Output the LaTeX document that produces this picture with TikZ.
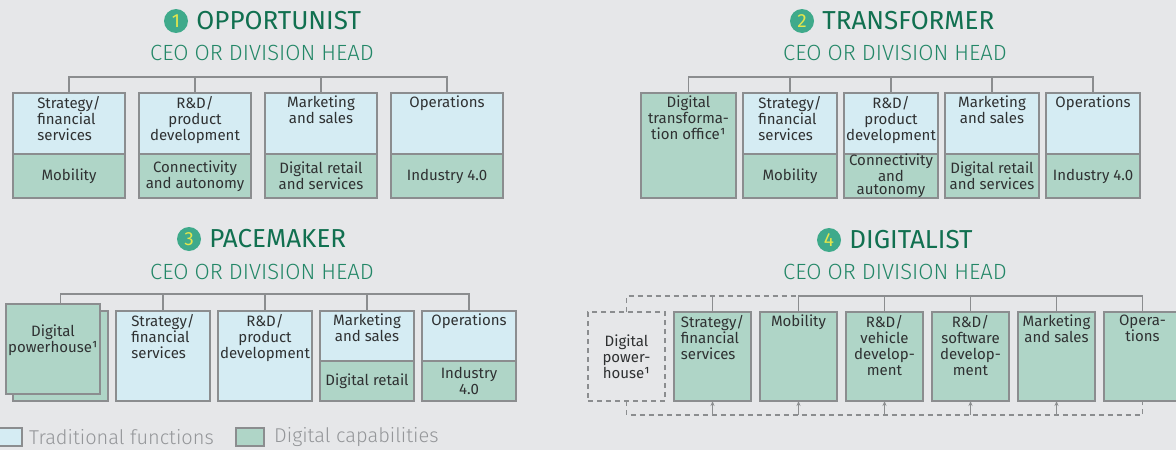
\documentclass[tikz,border=0pt]{standalone}
\usepackage{fontspec}
\setmainfont{Fira Sans}
\newfontfamily\lightfont{Fira Sans Light}
\usepackage{tikz}
\usetikzlibrary{arrows.meta,positioning}
\definecolor{pageBg}{HTML}{E6E7E9}
\definecolor{tradFill}{HTML}{D5ECF3}
\definecolor{digiFill}{HTML}{AFD5C7}
\definecolor{boxBd}{HTML}{8B8D8F}
\definecolor{titleGreen}{HTML}{117050}
\definecolor{headGreen}{HTML}{238767}
\definecolor{badgeFill}{HTML}{3FAA8B}
\definecolor{badgeNum}{HTML}{E4E64C}
\definecolor{bodyText}{HTML}{2F3132}
\definecolor{legendText}{HTML}{949699}
\tikzset{
  unit/.style={
    rectangle, draw=boxBd, line width=1.3pt, outer sep=0pt,
    inner sep=2pt, text=bodyText, align=center,
    font=\fontsize{15}{16}\selectfont
  },
  trad/.style={unit, fill=tradFill},
  digi/.style={unit, fill=digiFill},
  ghost/.style={unit, dash pattern=on 5pt off 4pt},
  toplbl/.style={
    anchor=north, inner sep=3pt, align=center, text=bodyText,
    font=\fontsize{15}{16}\selectfont
  },
  badge/.style={
    circle, fill=badgeFill, text=badgeNum, minimum size=24pt,
    inner sep=0pt, font=\fontsize{19}{19}\selectfont
  },
  title/.style={inner sep=0pt, text=titleGreen, font=\fontsize{26}{26}\selectfont},
  head/.style={inner sep=0pt, text=headGreen, font=\lightfont\fontsize{22}{22}\selectfont},
  org/.style={draw=boxBd, line width=1.5pt},
  link/.style={draw=boxBd, line width=1.3pt, dash pattern=on 5pt off 4pt},
  feed/.style={draw=boxBd, line width=1pt, -{Stealth[length=5pt,width=4pt]}},
  legend/.style={inner sep=0pt, text=legendText, font=\lightfont\fontsize{20}{20}\selectfont}
}

\begin{document}
\begin{tikzpicture}[x=1pt, y=-1pt]
  \useasboundingbox (0,0) rectangle (1176,450);
  \fill[pageBg] (0,0) rectangle (1176,450);

  % 1: opportunist
  \node[badge] (b1) at (176,21) {1};
  \node[title, right=8pt of b1] (t1) {OPPORTUNIST};
  \node[head] (c1) at (262,53) {CEO OR DIVISION HEAD};
  \coordinate (h1) at (0,77);

  \node[trad, minimum width=112pt, minimum height=61pt, anchor=north west,
        label={[toplbl, align=left]north:Strategy/\\financial\\services}] (p1s) at (13,93) {};
  \node[trad, minimum width=112pt, minimum height=61pt, right=14pt of p1s,
        label={[toplbl]north:R\&D/\\product\\development}] (p1r) {};
  \node[trad, minimum width=112pt, minimum height=61pt, right=14pt of p1r,
        label={[toplbl]north:Marketing\\and sales}] (p1k) {};
  \node[trad, minimum width=112pt, minimum height=61pt, right=14pt of p1k,
        label={[toplbl]north:Operations}] (p1o) {};
  \node[digi, minimum width=112pt, minimum height=44pt, below=0pt of p1s] (p1sd) {Mobility};
  \node[digi, minimum width=112pt, minimum height=44pt, below=0pt of p1r] (p1rd) {Connectivity\\and autonomy};
  \node[digi, minimum width=112pt, minimum height=44pt, below=0pt of p1k] (p1kd) {Digital retail\\and services};
  \node[digi, minimum width=112pt, minimum height=44pt, below=0pt of p1o] (p1od) {Industry 4.0};

  \draw[org] (p1s.north) -- (p1s.north |- h1) -- (p1o.north |- h1) -- (p1o.north);
  \draw[org] (p1r.north) -- (p1r.north |- h1);
  \draw[org] (p1k.north) -- (p1k.north |- h1);

  % 2: transformer
  \node[badge] (b2) at (802,21) {2};
  \node[title, right=8pt of b2] (t2) {TRANSFORMER};
  \node[head] (c2) at (895,53) {CEO OR DIVISION HEAD};
  \coordinate (h2) at (0,77);

  \node[digi, minimum width=95pt, minimum height=105pt, anchor=north west,
        label={[toplbl]north:Digital\\transforma-\\tion office¹}] (p2d) at (641,93) {};
  \node[trad, minimum width=94pt, minimum height=61pt, right=7pt of p2d.north east, anchor=north west,
        label={[toplbl, align=left]north:Strategy/\\financial\\services}] (p2s) {};
  \node[trad, minimum width=94pt, minimum height=61pt, right=7pt of p2s,
        label={[toplbl]north:R\&D/\\product\\development}] (p2r) {};
  \node[trad, minimum width=94pt, minimum height=61pt, right=7pt of p2r,
        label={[toplbl]north:Marketing\\and sales}] (p2k) {};
  \node[trad, minimum width=94pt, minimum height=61pt, right=7pt of p2k,
        label={[toplbl]north:Operations}] (p2o) {};
  \node[digi, minimum width=94pt, minimum height=44pt, below=0pt of p2s] (p2sd) {Mobility};
  \node[digi, minimum width=94pt, minimum height=44pt, below=0pt of p2r, inner sep=0pt,
        font=\fontsize{15}{13.5}\selectfont] (p2rd) {Connectivity\\and\\autonomy};
  \node[digi, minimum width=94pt, minimum height=44pt, below=0pt of p2k] (p2kd) {Digital retail\\and services};
  \node[digi, minimum width=94pt, minimum height=44pt, below=0pt of p2o] (p2od) {Industry 4.0};

  \draw[org] (p2d.north) -- (p2d.north |- h2) -- (p2o.north |- h2) -- (p2o.north);
  \draw[org] (p2s.north) -- (p2s.north |- h2);
  \draw[org] (p2r.north) -- (p2r.north |- h2);
  \draw[org] (p2k.north) -- (p2k.north |- h2);

  % 3: pacemaker
  \node[badge] (b3) at (189,239) {3};
  \node[title, right=8pt of b3] (t3) {PACEMAKER};
  \node[head] (c3) at (262,272) {CEO OR DIVISION HEAD};
  \coordinate (h3) at (0,294);

  \node[digi, minimum width=95pt, minimum height=90pt, anchor=north west] (p3sh) at (13,311) {};
  \node[digi, minimum width=94pt, minimum height=90pt, anchor=north west,
        label={[toplbl, yshift=-18pt]north:Digital\\powerhouse¹}] (p3d) at (6,304) {};
  \node[trad, minimum width=94pt, minimum height=90pt, right=8pt of p3sh,
        label={[toplbl, align=left]north:Strategy/\\financial\\services}] (p3s) {};
  \node[trad, minimum width=94pt, minimum height=90pt, right=8pt of p3s,
        label={[toplbl]north:R\&D/\\product\\development}] (p3r) {};
  \node[trad, minimum width=94pt, minimum height=50pt, right=8pt of p3r.north east, anchor=north west,
        label={[toplbl]north:Marketing\\and sales}] (p3k) {};
  \node[trad, minimum width=94pt, minimum height=50pt, right=8pt of p3k,
        label={[toplbl]north:Operations}] (p3o) {};
  \node[digi, minimum width=94pt, minimum height=40pt, below=0pt of p3k] (p3kd) {Digital retail};
  \node[digi, minimum width=94pt, minimum height=40pt, below=0pt of p3o] (p3od) {Industry\\4.0};

  \draw[org] (p3sh.north |- p3d.north) -- (p3sh.north |- h3) -- (p3o.north |- h3) -- (p3o.north);
  \draw[org] (p3s.north) -- (p3s.north |- h3);
  \draw[org] (p3r.north) -- (p3r.north |- h3);
  \draw[org] (p3k.north) -- (p3k.north |- h3);

  % 4: digitalist
  \node[badge] (b4) at (829,240) {4};
  \node[title, right=8pt of b4] (t4) {DIGITALIST};
  \node[head] (c4) at (895,272) {CEO OR DIVISION HEAD};
  \coordinate (h4) at (0,296);
  \coordinate (l4) at (0,415);

  \node[ghost, minimum width=77pt, minimum height=89pt, anchor=north west] (p4d) at (588,312) {Digital\\power-\\house¹};
  \node[digi, minimum width=77pt, minimum height=89pt, right=9pt of p4d,
        label={[toplbl, align=left]north:Strategy/\\financial\\services}] (p4s) {};
  \node[digi, minimum width=77pt, minimum height=89pt, right=9pt of p4s,
        label={[toplbl]north:Mobility}] (p4m) {};
  \node[digi, minimum width=77pt, minimum height=89pt, right=9pt of p4m,
        label={[toplbl]north:R\&D/\\vehicle\\develop-\\ment}] (p4v) {};
  \node[digi, minimum width=77pt, minimum height=89pt, right=9pt of p4v,
        label={[toplbl]north:R\&D/\\software\\develop-\\ment}] (p4w) {};
  \node[digi, minimum width=77pt, minimum height=89pt, right=9pt of p4w,
        label={[toplbl]north:Marketing\\and sales}] (p4k) {};
  \node[digi, minimum width=77pt, minimum height=89pt, right=9pt of p4k,
        label={[toplbl]north:Opera-\\tions}] (p4o) {};

  \draw[org] (p4m.north) -- (p4m.north |- h4) -- (p4o.north |- h4) -- (p4o.north);
  \draw[org] (p4s.north) -- (p4s.north |- h4);
  \draw[org] (p4v.north) -- (p4v.north |- h4);
  \draw[org] (p4w.north) -- (p4w.north |- h4);
  \draw[org] (p4k.north) -- (p4k.north |- h4);
  \draw[link] (p4d.north) -- (p4d.north |- h4) -- (p4m.north |- h4);
  \draw[link] (p4d.south) -- (p4d.south |- l4) -- (p4o.south |- l4) -- (p4o.south);
  \draw[feed] (p4s.south |- l4) -- (p4s.south);
  \draw[feed] (p4m.south |- l4) -- (p4m.south);
  \draw[feed] (p4v.south |- l4) -- (p4v.south);
  \draw[feed] (p4w.south |- l4) -- (p4w.south);
  \draw[feed] (p4k.south |- l4) -- (p4k.south);

  % legend
  \node[trad, minimum width=28pt, minimum height=18pt] (lg1) at (8,437) {};
  \node[legend, right=7pt of lg1] (lg1t) {Traditional functions};
  \node[digi, minimum width=28pt, minimum height=18pt, right=22pt of lg1t] (lg2) {};
  \node[legend, right=10pt of lg2] (lg2t) {Digital capabilities};
\end{tikzpicture}
\end{document}
